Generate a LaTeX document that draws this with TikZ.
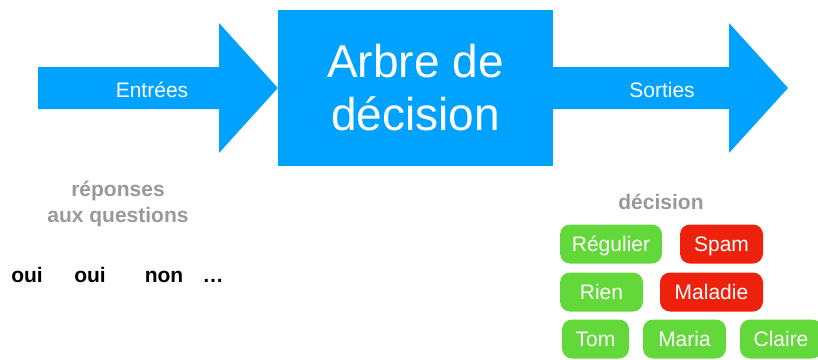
\documentclass[tikz,border=0pt]{standalone}
\usepackage{fontspec}
\setmainfont{Liberation Sans}
\usetikzlibrary{positioning}
\definecolor{fblue}{HTML}{00A2FF}
\definecolor{fgreen}{HTML}{63D83A}
\definecolor{fred}{HTML}{EE220C}
\definecolor{fgrey}{HTML}{999999}
\tikzset{
  bigbox/.style   = {fill=fblue, text=white, minimum width=275pt,
                     minimum height=156pt, inner sep=0pt, align=center,
                     font=\fontsize{46}{53}\selectfont},
  arrowlbl/.style = {text=white, anchor=base, inner sep=0pt,
                     font=\fontsize{21}{25}\selectfont},
  caption/.style  = {text=fgrey, inner sep=0pt, align=center,
                     font=\bfseries\fontsize{21}{26}\selectfont},
  answer/.style   = {anchor=base, inner sep=0pt,
                     font=\bfseries\fontsize{21}{25}\selectfont},
  pill/.style     = {rounded corners=10pt, text=white, inner sep=0pt,
                     minimum height=39pt, text height=15pt, text depth=0pt,
                     font=\fontsize{21}{25}\selectfont},
  good/.style     = {pill, fill=fgreen},
  bad/.style      = {pill, fill=fred},
}
\begin{document}
\begin{tikzpicture}[x=1pt, y=-1pt]
\useasboundingbox (0,0) rectangle (818,359);
\clip (0,0) rectangle (818,359);
% ---------- block and arrows ----------
\node[bigbox] (arbre) at (415.5,88) {Arbre de\\décision};
\fill[fblue] (38,67) -- (219,67) -- (219,23) -- (arbre.west)
  -- (219,153) -- (219,109) -- (38,109) -- cycle;
\fill[fblue] (arbre.east |- 0,67) -- (729,67) -- (729,23) -- (788,88)
  -- (729,153) -- (729,109) -- (arbre.east |- 0,109) -- cycle;
\node[arrowlbl] (entrees) at (152,97) {Entrées};
\node[arrowlbl] (sorties) at (662,97) {Sorties};
% ---------- inputs ----------
\node[caption] (reponses) at (118,204) {réponses\\aux questions};
\node[answer] (oui1) at (27,282) {oui};
\node[answer] (oui2) at (90,282) {oui};
\node[answer] (non) at (164,282) {non};
\node[answer] (etc) at (213,282) {…};
% ---------- outputs ----------
\node[caption, anchor=base] (decision) at (661,209) {décision};
\node[good, minimum width=102pt] (regulier) at (611,244) {Régulier};
\node[bad, minimum width=83pt] (spam) at (721.5,244) {Spam};
\node[good, minimum width=83pt] (rien) at (601.5,292) {Rien};
\node[bad, minimum width=103pt] (maladie) at (711.5,292) {Maladie};
\node[good, minimum width=67pt] (tom) at (595.5,339) {Tom};
\node[good, minimum width=83pt] (maria) at (684.5,339) {Maria};
\node[good, minimum width=82pt] (claire) at (781,339) {Claire};
\end{tikzpicture}
\end{document}
